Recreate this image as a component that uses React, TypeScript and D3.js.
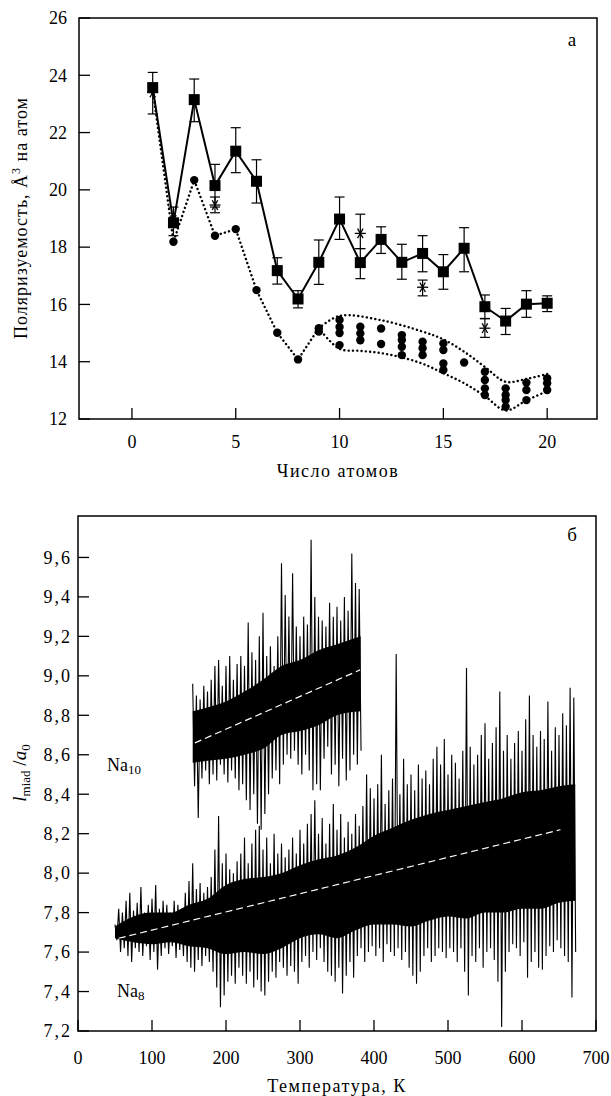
import React from 'react';
import * as d3 from 'd3';

// ---------- Panel a: polarizability per atom ----------
const atomN = [1, 2, 3, 4, 5, 6, 7, 8, 9, 10, 11, 12, 13, 14, 15, 16, 17, 18, 19, 20];
const sqVal = [23.57, 18.85, 23.15, 20.15, 21.35, 20.3, 17.18, 16.19, 17.47, 18.98, 17.46, 18.27, 17.47, 17.78, 17.14, 17.96, 15.92, 15.42, 16.01, 16.04];
const sqHi = [24.1, 19.4, 23.87, 20.89, 22.17, 21.05, 17.63, 16.48, 18.25, 19.75, 17.95, 18.71, 18.1, 18.4, 17.74, 18.68, 16.33, 15.86, 16.48, 16.3];
const sqLo = [22.65, 18.4, 22.38, 19.4, 20.6, 19.54, 16.71, 15.88, 16.7, 18.27, 16.9, 17.78, 16.88, 17.14, 16.53, 17.14, 15.51, 14.95, 15.55, 15.75];

const astN = [1, 2, 4, 11, 14, 17];
const astVal = [23.4, 18.95, 19.47, 18.48, 16.6, 15.17];
const astHi = [23.4, 18.95, 19.75, 19.15, 16.85, 15.5];
const astLo = [23.4, 18.95, 19.2, 17.95, 16.3, 14.85];

const circMainN = [1, 2, 3, 4, 5, 6, 7, 8, 9];
const circMainV = [23.5, 18.19, 20.34, 18.4, 18.63, 16.5, 15.01, 14.08, 15.17];

const clusterN = [9, 10, 10, 10, 10, 11, 11, 11, 12, 12, 13, 13, 13, 13, 14, 14, 14, 15, 15, 15, 15, 16, 17, 17, 17, 17, 18, 18, 18, 18, 19, 19, 19, 20, 20, 20];
const clusterV = [15.05, 15.46, 15.21, 15.0, 14.58, 15.22, 14.99, 14.75, 15.16, 14.62, 14.93, 14.76, 14.52, 14.23, 14.7, 14.47, 14.23, 14.64, 14.41, 13.94, 13.71, 13.97, 13.65, 13.36, 13.07, 12.84, 13.07, 12.84, 12.66, 12.43, 13.27, 13.01, 12.66, 13.42, 13.25, 13.01];

const envUpN = [9, 10, 12, 14, 15, 16, 17, 18, 19, 20];
const envUpV = [15.17, 15.6, 15.45, 15.05, 14.78, 14.35, 13.82, 13.3, 13.4, 13.57];
const envLoN = [9, 10, 11, 12, 13, 14, 15, 16, 17, 18, 19, 20];
const envLoV = [15.17, 14.45, 14.38, 14.3, 14.15, 13.93, 13.6, 13.25, 12.8, 12.3, 12.65, 12.97];

const topYTicks = [12, 14, 16, 18, 20, 22, 24, 26];
const topXTicks = [0, 5, 10, 15, 20];

// ---------- Panel б: l_miad / a0 vs temperature ----------
const na8Start = 50;
const na8Step = 5;
const na8Hi = [7.74, 7.82, 7.8, 7.86, 7.9, 7.81, 7.85, 7.93, 7.8, 7.84, 7.87, 7.94, 7.82, 7.86, 7.84, 7.8, 7.86, 7.84, 7.82, 7.9,
  7.96, 8.05, 7.92, 7.95, 7.9, 7.93, 7.98, 8.12, 8.29, 8.05, 8.1, 8.02, 8.0, 8.06, 8.1, 8.18, 8.05, 8.15, 8.22, 8.24,
  8.12, 8.18, 8.05, 8.2, 8.1, 8.15, 8.08, 8.12, 8.18, 8.1, 8.22, 8.15, 8.25, 8.3, 8.37, 8.2, 8.28, 8.15, 8.25, 8.35,
  8.22, 8.3, 8.18, 8.26, 8.2, 8.3, 8.24, 8.34, 8.5, 8.43, 8.38, 8.45, 8.6, 8.35, 8.42, 8.48, 9.11, 8.4, 8.58, 8.45,
  8.5, 8.42, 8.55, 8.48, 8.52, 8.45, 8.58, 8.64, 8.55, 8.68, 8.5, 8.6, 8.56, 8.48, 8.62, 9.04, 8.64, 8.55, 8.6, 8.7,
  8.76, 8.58, 8.66, 8.74, 8.92, 8.62, 8.7, 8.58, 8.66, 8.72, 8.62, 8.78, 8.9, 8.7, 8.64, 8.72, 8.68, 8.87, 8.62, 8.74,
  8.7, 8.81, 8.75, 8.94, 8.89];
const na8Lo = [7.66, 7.6, 7.62, 7.58, 7.55, 7.62, 7.6, 7.58, 7.63, 7.56, 7.6, 7.51, 7.58, 7.62, 7.59, 7.63, 7.57, 7.61, 7.58, 7.55,
  7.52, 7.5, 7.56, 7.53, 7.58, 7.55, 7.5, 7.42, 7.32, 7.38, 7.45, 7.48, 7.44, 7.52, 7.48, 7.44, 7.5, 7.42, 7.46, 7.4,
  7.38, 7.45, 7.5, 7.47, 7.55, 7.52, 7.48, 7.53, 7.5, 7.44, 7.55, 7.58, 7.52, 7.6, 7.56, 7.62, 7.55, 7.5, 7.48, 7.45,
  7.52, 7.39, 7.48, 7.55, 7.47, 7.58, 7.62, 7.55, 7.6, 7.63, 7.58, 7.62, 7.55, 7.64, 7.6, 7.58, 7.62, 7.56, 7.6, 7.52,
  7.48, 7.44, 7.5, 7.58, 7.62, 7.55, 7.58, 7.62, 7.6, 7.57, 7.62, 7.6, 7.55, 7.62, 7.5, 7.38, 7.58, 7.55, 7.62, 7.52,
  7.6, 7.62, 7.56, 7.45, 7.22, 7.5, 7.6, 7.64, 7.62, 7.58, 7.65, 7.47, 7.55, 7.6, 7.52, 7.51, 7.58, 7.63, 7.6, 7.66,
  7.62, 7.58, 7.55, 7.37, 7.6];
const na8CoreT = [50, 75, 100, 125, 150, 175, 200, 225, 250, 275, 300, 325, 350, 375, 400, 425, 450, 475, 500, 525, 550, 575, 600, 625, 650, 672];
const na8CoreHi = [7.73, 7.78, 7.8, 7.8, 7.84, 7.87, 7.94, 7.97, 7.98, 8.0, 8.04, 8.07, 8.09, 8.13, 8.19, 8.23, 8.27, 8.3, 8.32, 8.34, 8.36, 8.38, 8.41, 8.42, 8.44, 8.45];
const na8CoreLo = [7.67, 7.65, 7.64, 7.65, 7.63, 7.62, 7.59, 7.6, 7.59, 7.62, 7.67, 7.69, 7.67, 7.71, 7.74, 7.74, 7.73, 7.76, 7.78, 7.77, 7.8, 7.8, 7.82, 7.82, 7.85, 7.86];
const na8Fit = [[55, 7.67], [652, 8.22]];

const na10Start = 155;
const na10Step = 5;
const na10Hi = [8.96, 8.9, 8.88, 8.95, 8.92, 8.98, 9.05, 9.08, 8.95, 9.05, 9.1, 8.98, 9.06, 9.1, 9.05, 9.27, 9.12, 9.08, 9.2, 9.32,
  9.1, 9.15, 9.05, 9.2, 9.57, 9.41, 9.3, 9.52, 9.25, 9.2, 9.3, 9.26, 9.69, 9.4, 9.3, 9.28, 9.25, 9.37, 9.3, 9.35,
  9.28, 9.4, 9.33, 9.62, 9.47, 9.44];
const na10Lo = [8.44, 8.28, 8.48, 8.52, 8.45, 8.5, 8.47, 8.55, 8.5, 8.46, 8.52, 8.48, 8.42, 8.45, 8.37, 8.32, 8.4, 8.25, 8.22, 8.3,
  8.4, 8.48, 8.52, 8.45, 8.55, 8.6, 8.58, 8.62, 8.55, 8.5, 8.6, 8.52, 8.42, 8.45, 8.42, 8.58, 8.64, 8.5, 8.55, 8.44,
  8.58, 8.47, 8.52, 8.6, 8.55, 8.62];
const na10CoreT = [155, 175, 200, 225, 250, 275, 300, 325, 350, 382];
const na10CoreHi = [8.82, 8.84, 8.87, 8.92, 8.98, 9.05, 9.08, 9.13, 9.16, 9.2];
const na10CoreLo = [8.56, 8.57, 8.58, 8.6, 8.63, 8.7, 8.72, 8.75, 8.8, 8.82];
const na10Fit = [[158, 8.66], [381, 9.03]];

const botYTicks = [7.2, 7.4, 7.6, 7.8, 8.0, 8.2, 8.4, 8.6, 8.8, 9.0, 9.2, 9.4, 9.6];
const botXTicks = [0, 100, 200, 300, 400, 500, 600, 700];

const FONT = "'Liberation Serif', 'Times New Roman', 'DejaVu Serif', serif";

const A = { l: 79, r: 597, t: 18, b: 419 };
const B = { l: 78, r: 596, t: 516, b: 1031 };

function Asterisk({ cx, cy, r }: { cx: number; cy: number; r: number }) {
  const angs = [0, 60, 120];
  return (
    <g>
      {angs.map((a) => {
        const rad = (a * Math.PI) / 180;
        const dx = Math.cos(rad) * r;
        const dy = Math.sin(rad) * r;
        return <line key={a} x1={cx - dx} y1={cy - dy} x2={cx + dx} y2={cy + dy} stroke="#000" strokeWidth={1.3} />;
      })}
    </g>
  );
}

function Trace({ start, step, hi, lo, coreT, coreHi, coreLo, x, y }: any) {
  const n = Math.min(hi.length, lo.length);
  const zig: [number, number][] = [];
  for (let i = 0; i < n; i++) {
    const t = start + step * i;
    zig.push([x(t), y(hi[i])]);
    zig.push([x(t + step * 0.5), y(lo[i])]);
  }
  const core = d3
    .area<number>()
    .x((d) => x(d))
    .y0((_, i) => y(coreLo[i]))
    .y1((_, i) => y(coreHi[i]))
    .curve(d3.curveMonotoneX)(coreT) || '';
  return (
    <g>
      <path d={core} fill="#000" />
      <path d={d3.line()(zig) || ''} fill="none" stroke="#000" strokeWidth={1.1} />
    </g>
  );
}

export default function App() {
  const xA = d3.scaleLinear().domain([-2.55, 22.4]).range([A.l, A.r]);
  const yA = d3.scaleLinear().domain([12, 26]).range([A.b, A.t]);
  const xB = d3.scaleLinear().domain([0, 700]).range([B.l, B.r]);
  const yB = d3.scaleLinear().domain([7.2, 9.81]).range([B.b, B.t]);

  const solid = d3.line<number>().x((_, i) => xA(atomN[i])).y((d) => yA(d))(sqVal) || '';
  const dotMain = d3.line<number>().x((_, i) => xA(circMainN[i])).y((d) => yA(d))(circMainV) || '';
  const envUp = d3.line<number>().x((_, i) => xA(envUpN[i])).y((d) => yA(d)).curve(d3.curveCatmullRom)(envUpV) || '';
  const envLo = d3.line<number>().x((_, i) => xA(envLoN[i])).y((d) => yA(d)).curve(d3.curveCatmullRom)(envLoV) || '';
  const dotStyle = { fill: 'none', stroke: '#000', strokeWidth: 2.4, strokeDasharray: '0.1 4.2', strokeLinecap: 'round' as const };

  const cap = 5;
  const tickLen = 11;
  const fmt = (v: number) => v.toFixed(1).replace('.', ',');
  const txt = { fontFamily: FONT };
  const FS = 18;

  return (
    <svg width={611} height={1096} style={{ position: 'absolute', left: 0, top: 0, background: '#fff', fontFamily: FONT }}>
      <rect x={0} y={0} width={611} height={1096} fill="#fff" />
      <defs>
        <clipPath id="clipB">
          <rect x={B.l} y={B.t} width={B.r - B.l} height={B.b - B.t} />
        </clipPath>
      </defs>
      {/* ===== Panel a ===== */}
      <path d={dotMain} {...dotStyle} />
      <path d={envUp} {...dotStyle} />
      <path d={envLo} {...dotStyle} />
      {circMainV.map((v, i) => (
        <circle key={'cm' + i} cx={xA(circMainN[i])} cy={yA(v)} r={4.2} fill="#000" />
      ))}
      {clusterV.map((v, i) => (
        <circle key={'cc' + i} cx={xA(clusterN[i])} cy={yA(v)} r={4.2} fill="#000" />
      ))}
      {astVal.map((v, i) => (
        <g key={'as' + i}>
          {astHi[i] !== astLo[i] && (
            <g stroke="#000" strokeWidth={1.2}>
              <line x1={xA(astN[i])} x2={xA(astN[i])} y1={yA(astHi[i])} y2={yA(astLo[i])} />
              <line x1={xA(astN[i]) - cap} x2={xA(astN[i]) + cap} y1={yA(astHi[i])} y2={yA(astHi[i])} />
              <line x1={xA(astN[i]) - cap} x2={xA(astN[i]) + cap} y1={yA(astLo[i])} y2={yA(astLo[i])} />
            </g>
          )}
          <Asterisk cx={xA(astN[i])} cy={yA(v)} r={5.5} />
        </g>
      ))}
      <path d={solid} fill="none" stroke="#000" strokeWidth={2} />
      {sqVal.map((v, i) => (
        <g key={'sq' + i}>
          <g stroke="#000" strokeWidth={1.2}>
            <line x1={xA(atomN[i])} x2={xA(atomN[i])} y1={yA(sqHi[i])} y2={yA(sqLo[i])} />
            <line x1={xA(atomN[i]) - cap} x2={xA(atomN[i]) + cap} y1={yA(sqHi[i])} y2={yA(sqHi[i])} />
            <line x1={xA(atomN[i]) - cap} x2={xA(atomN[i]) + cap} y1={yA(sqLo[i])} y2={yA(sqLo[i])} />
          </g>
          <rect x={xA(atomN[i]) - 5.5} y={yA(v) - 5.5} width={11} height={11} fill="#000" />
        </g>
      ))}
      <rect x={A.l} y={A.t} width={A.r - A.l} height={A.b - A.t} fill="none" stroke="#000" strokeWidth={1.5} />
      {topYTicks.map((t) => (
        <g key={'ya' + t}>
          <line x1={A.l} x2={A.l + tickLen} y1={yA(t)} y2={yA(t)} stroke="#000" strokeWidth={1.3} />
          <text style={txt} x={A.l - 12} y={yA(t)} dy="0.35em" textAnchor="end" fontSize={FS}>{t}</text>
        </g>
      ))}
      {topXTicks.map((t) => (
        <g key={'xa' + t}>
          <line x1={xA(t)} x2={xA(t)} y1={A.b} y2={A.b - tickLen} stroke="#000" strokeWidth={1.3} />
          <text style={txt} x={xA(t)} y={448} textAnchor="middle" fontSize={FS}>{t}</text>
        </g>
      ))}
      <text style={txt} x={(A.l + A.r) / 2} y={477} textAnchor="middle" fontSize={FS} letterSpacing={1.5}>Число атомов</text>
      <text style={txt} transform={`translate(27, 218) rotate(-90)`} textAnchor="middle" fontSize={FS} letterSpacing={1}>
        Поляризуемость, Å<tspan dy={-7} fontSize={12}>3</tspan><tspan dy={7}>  на атом</tspan>
      </text>
      <text style={txt} x={572} y={46} textAnchor="middle" fontSize={19}>a</text>

      {/* ===== Panel б ===== */}
      <g clipPath="url(#clipB)">
        <Trace start={na8Start} step={na8Step} hi={na8Hi} lo={na8Lo} coreT={na8CoreT} coreHi={na8CoreHi} coreLo={na8CoreLo} x={xB} y={yB} />
        <Trace start={na10Start} step={na10Step} hi={na10Hi} lo={na10Lo} coreT={na10CoreT} coreHi={na10CoreHi} coreLo={na10CoreLo} x={xB} y={yB} />
        <line x1={xB(na8Fit[0][0])} y1={yB(na8Fit[0][1])} x2={xB(na8Fit[1][0])} y2={yB(na8Fit[1][1])} stroke="#fff" strokeWidth={1.2} strokeDasharray="7 4" />
        <line x1={xB(na10Fit[0][0])} y1={yB(na10Fit[0][1])} x2={xB(na10Fit[1][0])} y2={yB(na10Fit[1][1])} stroke="#fff" strokeWidth={1.2} strokeDasharray="7 4" />
      </g>
      <rect x={B.l} y={B.t} width={B.r - B.l} height={B.b - B.t} fill="none" stroke="#000" strokeWidth={1.5} />
      {botYTicks.map((t) => (
        <g key={'yb' + t}>
          <line x1={B.l} x2={B.l + tickLen} y1={yB(t)} y2={yB(t)} stroke="#000" strokeWidth={1.3} />
          <text style={txt} x={B.l - 6} y={yB(t)} dy="0.35em" textAnchor="end" fontSize={FS} letterSpacing={2}>{fmt(t)}</text>
        </g>
      ))}
      {botXTicks.map((t) => (
        <g key={'xb' + t}>
          <line x1={xB(t)} x2={xB(t)} y1={B.b} y2={B.b - tickLen} stroke="#000" strokeWidth={1.3} />
          <text style={txt} x={xB(t)} y={1064} textAnchor="middle" fontSize={FS}>{t}</text>
        </g>
      ))}
      <text style={txt} x={(B.l + B.r) / 2} y={1092} textAnchor="middle" fontSize={FS} letterSpacing={1.5}>Температура, К</text>
      <text style={txt} transform={`translate(26, 773) rotate(-90)`} textAnchor="middle" fontSize={19}>
        <tspan fontStyle="italic">l</tspan><tspan dy={4} fontSize={13}>miad</tspan><tspan dy={-4}> /</tspan><tspan fontStyle="italic">a</tspan><tspan dy={4} fontSize={13}>0</tspan>
      </text>
      <text style={txt} x={107} y={771} fontSize={FS}>Na<tspan dy={3} fontSize={13}>10</tspan></text>
      <text style={txt} x={117} y={997} fontSize={FS}>Na<tspan dy={3} fontSize={13}>8</tspan></text>
      <text style={txt} x={572} y={541} textAnchor="middle" fontSize={19}>б</text>
    </svg>
  );
}
